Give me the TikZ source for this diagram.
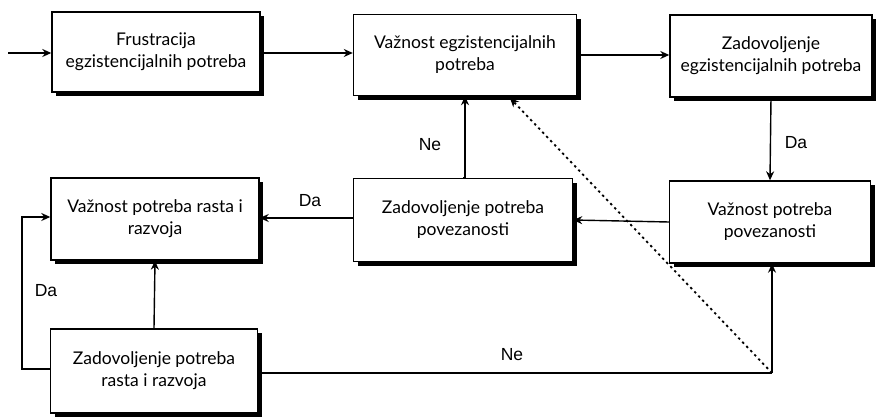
\documentclass[tikz,border=0pt]{standalone}
\usepackage{fontspec}
\setmainfont{Lato}
\newfontfamily\lblfont{Liberation Sans}
\usetikzlibrary{arrows.meta,shadows,calc}
\begin{document}
\begin{tikzpicture}[x=1pt,y=-1pt,
  box/.style={draw=black, line width=1.4pt, fill=white, align=center, inner sep=0pt,
    font=\fontsize{17.5}{22}\selectfont,
    drop shadow={shadow xshift=4pt, shadow yshift=-4.5pt, fill=black, opacity=1}},
  conn/.style={line width=1.4pt, -{Stealth[length=9pt,width=8pt]}},
  plain/.style={line width=1.4pt},
  lbl/.style={font=\lblfont\fontsize{17.5}{20}\selectfont, inner sep=0pt}]
\useasboundingbox (0,0) rectangle (876,419);
\node[box, minimum width=208pt, minimum height=80pt] (b1) at (156,52) {Frustracija\\egzistencijalnih potreba};
\node[box, minimum width=223pt, minimum height=81pt] (b2) at (465,55) {Važnost egzistencijalnih\\potreba};
\node[box, minimum width=202pt, minimum height=82pt] (b3) at (771,56) {Zadovoljenje\\egzistencijalnih potreba};
\node[box, minimum width=208pt, minimum height=82pt] (b4) at (155,219) {Važnost potreba rasta i\\razvoja};
\node[box, minimum width=219pt, minimum height=83pt] (b5) at (463,220) {Zadovoljenje potreba\\povezanosti};
\node[box, minimum width=201pt, minimum height=82pt] (b6) at (770,222) {Važnost potreba\\povezanosti};
\node[box, minimum width=207pt, minimum height=84pt] (b7) at (154,371) {Zadovoljenje potreba\\rasta i razvoja};
\coordinate (start) at (8,53);
\coordinate (leftc) at (22,0);
\coordinate (corner) at (772,373);
% connectors
\draw[conn] (start) -- (b1.west |- start);
\draw[conn] (b1.east |- 0,53) -- (b2.west |- 0,53);
\draw[conn] (b2.east |- 0,55) -- (b3.west |- 0,55);
\draw[conn] (b3.south) -- (b6.north);
\draw[conn] (b6.west) -- (b5.east);
\draw[conn] (b5.west |- 0,218) -- (b4.east |- 0,218);
\draw[conn] (b5.north) -- (b2.south |- b5.north) -- (b2.south);
\draw[conn] (b7.north) -- (b4.south);
\draw[conn] (b7.west |- 0,369) -- (leftc |- 0,369) -- (leftc |- 0,217) -- (b4.west |- 0,217);
\draw[plain] (b7.east |- 0,373) -- (corner);
\draw[conn] (corner) -- (b6.south -| corner);
\draw[line width=1.8pt, dash pattern=on 2.4pt off 3.4pt, -{Stealth[length=9pt,width=8pt]}] (corner) -- (510,98);
% labels
\node[lbl] (l1) at (796,143) {Da};
\node[lbl] (l2) at (430,145) {Ne};
\node[lbl] (l3) at (310,201) {Da};
\node[lbl] (l4) at (46,291) {Da};
\node[lbl] (l5) at (512,355) {Ne};
\end{tikzpicture}
\end{document}
